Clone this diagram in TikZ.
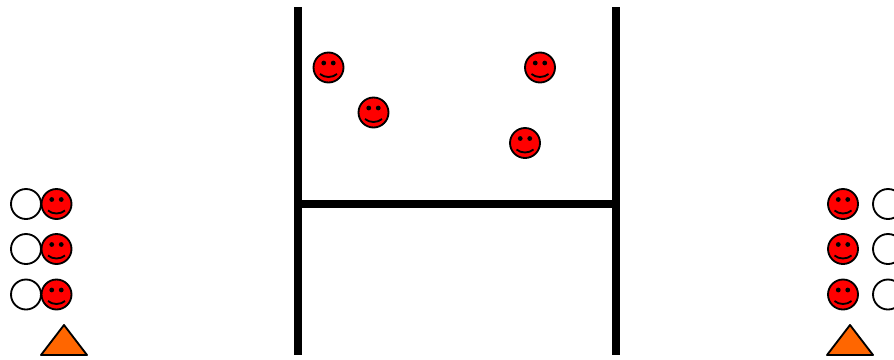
\documentclass[tikz,border=0pt]{standalone}
\definecolor{coneorange}{RGB}{255,102,0}
\tikzset{
  smiley/.pic={
    \fill[red] (0,0) circle (0.30);
    \draw[line width=1.05pt] (0,0) circle (0.30);
    \fill (-0.095,0.09) circle (0.048);
    \fill (0.095,0.09) circle (0.048);
    \draw[line width=1.05pt] (-0.17,-0.13) .. controls (-0.08,-0.21) and (0.08,-0.21) .. (0.17,-0.13);
  },
  emptyseat/.style={draw,line width=1.05pt,fill=white},
  cone/.style={draw,line width=1.05pt,line join=round,fill=coneorange},
  post/.style={line width=4.55pt}
}
\begin{document}
\begin{tikzpicture}[line cap=butt]
  \useasboundingbox (0,0) rectangle (17.88,7.18);
  % goal
  \draw[post] (5.96,7.04) -- (5.96,0.08);
  \draw[post] (12.32,7.04) -- (12.32,0.08);
  \draw[post] (5.96,3.10) -- (12.32,3.10);
  % players in the field
  \foreach \x/\y in {6.57/5.83,10.80/5.83,7.47/4.93,10.50/4.32} {
    \pic at (\x,\y) {smiley};
  }
  % left and right benches
  \foreach \y in {3.10,2.20,1.29} {
    \draw[emptyseat] (0.52,\y) circle (0.30);
    \pic at (1.13,\y) {smiley};
    \pic at (16.86,\y) {smiley};
    \draw[emptyseat] (17.76,\y) circle (0.30);
  }
  % cones
  \draw[cone] (0.82,0.08) -- (1.28,0.68) -- (1.74,0.08) -- cycle;
  \draw[cone] (16.54,0.08) -- (17.00,0.68) -- (17.46,0.08) -- cycle;
\end{tikzpicture}
\end{document}
